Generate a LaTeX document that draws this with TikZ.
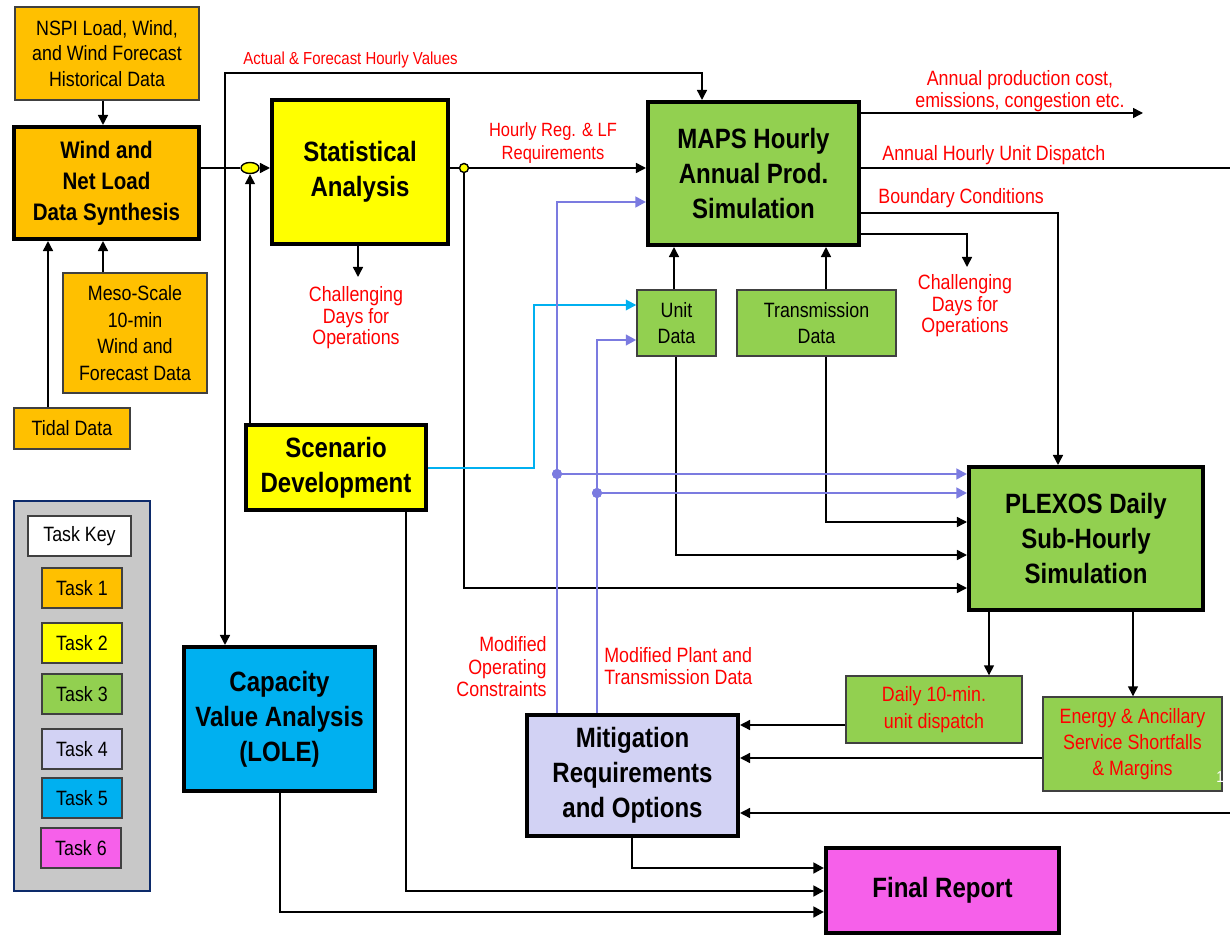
\documentclass[tikz,border=0pt]{standalone}
\usepackage{fontspec}
\setmainfont{Liberation Sans}
\newfontfamily\regf{Liberation Sans}[FakeStretch=0.86]
\newfontfamily\boldf{Liberation Sans}[FakeStretch=0.86]
\usetikzlibrary{arrows.meta,shapes.geometric,calc}
\definecolor{corange}{HTML}{FFC000}
\definecolor{cyellow}{HTML}{FFFF00}
\definecolor{cgreen}{HTML}{92D050}
\definecolor{clav}{HTML}{D2D2F4}
\definecolor{cblue}{HTML}{00B0F0}
\definecolor{cmag}{HTML}{F660EA}
\definecolor{cline}{HTML}{7B7BE0}
\definecolor{ccyan}{HTML}{00B0F0}
\definecolor{cred}{HTML}{FF0000}
\definecolor{cpanel}{HTML}{C8C8C8}
\definecolor{cnavy}{HTML}{0C2A6A}
\newcommand\mkbox[7]{\node[#6, minimum width={(#4-#2)*0.02cm}, minimum height={(#5-#3)*0.02cm}] (#1) at ({(#2+#4)/2},{(#3+#5)/2}) {#7};}
\tikzset{
 thinbox/.style={draw=black!75, line width=0.8pt, inner sep=0pt, align=center, font=\fontsize{11.8}{14.7}\selectfont\regf},
 thickbox/.style={draw=black, line width=2.3pt, inner sep=0pt, align=center, font=\fontsize{15.9}{19.8}\selectfont\boldf\bfseries},
 lbl/.style={text=cred, align=center, inner sep=0pt, font=\fontsize{11.8}{12.5}\selectfont\regf},
 conn/.style={draw=black, line width=0.85pt},
 arr/.style={conn, -{Triangle[length=5.7pt,width=5.7pt]}},
 barr/.style={draw=cline, line width=1.6pt, -{Triangle[length=6pt,width=6pt]}},
 carr/.style={draw=ccyan, line width=1.1pt, -{Triangle[length=6pt,width=6pt]}},
 farr/.style={draw=black, line width=1.6pt, -{Triangle[length=6pt,width=6pt]}},
}
\begin{document}
\begin{tikzpicture}[x=0.02cm,y=-0.02cm]
\useasboundingbox (0,0) rectangle (1230,935);
% legend
\mkbox{panel}{14}{501}{150}{891}{draw=cnavy,line width=1.7pt,fill=cpanel}{}
\mkbox{key}{28}{516}{131}{556}{thinbox,fill=white}{Task Key}
\mkbox{k1}{42}{568}{122}{608}{thinbox,fill=corange}{Task 1}
\mkbox{k2}{42}{623}{122}{663}{thinbox,fill=cyellow}{Task 2}
\mkbox{k3}{42}{674}{122}{714}{thinbox,fill=cgreen}{Task 3}
\mkbox{k4}{42}{729}{122}{769}{thinbox,fill=clav}{Task 4}
\mkbox{k5}{42}{778}{122}{818}{thinbox,fill=cblue}{Task 5}
\mkbox{k6}{41}{828}{121}{868}{thinbox,fill=cmag}{Task 6}
% boxes
\mkbox{nspi}{15}{7}{199}{100}{thinbox,fill=corange}{NSPI Load, Wind,\\and Wind Forecast\\Historical Data}
\mkbox{wind}{14}{127}{199}{239}{thickbox,fill=corange,font=\fontsize{13.6}{17.6}\selectfont\boldf\bfseries}{Wind and\\Net Load\\Data Synthesis}
\mkbox{meso}{63}{273}{207}{393}{thinbox,fill=corange,font=\fontsize{11.8}{15.1}\selectfont\regf}{Meso-Scale\\10-min\\Wind and\\Forecast Data}
\mkbox{tidal}{14}{408}{130}{449}{thinbox,fill=corange}{Tidal Data}
\mkbox{stat}{272}{100}{448}{244}{thickbox,fill=cyellow}{Statistical\\Analysis}
\mkbox{maps}{648}{102}{859}{245}{thickbox,fill=cgreen}{MAPS Hourly\\Annual Prod.\\Simulation}
\mkbox{unit}{637}{290}{716}{356}{thinbox,fill=cgreen}{Unit\\Data}
\mkbox{trans}{737}{290}{896}{356}{thinbox,fill=cgreen}{Transmission\\Data}
\mkbox{scen}{246}{425}{426}{510}{thickbox,fill=cyellow}{Scenario\\Development}
\mkbox{plex}{969}{467}{1203}{610}{thickbox,fill=cgreen}{PLEXOS Daily\\Sub-Hourly\\Simulation}
\mkbox{cap}{184}{647}{375}{791}{thickbox,fill=cblue}{Capacity\\Value Analysis\\(LOLE)}
\mkbox{mit}{527}{715}{738}{836}{thickbox,fill=clav}{Mitigation\\Requirements\\and Options}
\mkbox{fin}{826}{848}{1059}{933}{thickbox,fill=cmag}{Final Report}
\mkbox{daily}{846}{676}{1022}{743}{thinbox,fill=cgreen,text=cred,font=\fontsize{11.8}{15}\selectfont\regf}{Daily 10-min.\\unit dispatch}
\mkbox{energy}{1043}{697}{1222}{791}{thinbox,fill=cgreen,text=cred,font=\fontsize{11.8}{15}\selectfont\regf}{Energy \& Ancillary\\Service Shortfalls\\\& Margins}
\node[text=white, font=\fontsize{9}{9}\selectfont\regf, anchor=west, inner sep=0pt] (pg) at (1216,777) {1};
% labels
\node[lbl, anchor=west, font=\fontsize{9.9}{11}\selectfont\regf] (lact) at (243,60) {Actual \& Forecast Hourly Values};
\node[lbl, font=\fontsize{10.9}{13}\selectfont\regf] (lhr) at (553,143) {Hourly Reg. \& LF\\Requirements};
\node[lbl] (lapc) at (1020,91) {Annual production cost,\\emissions, congestion etc.};
\node[lbl, anchor=west] (lauc) at (882,155) {Annual Hourly Unit Dispatch};
\node[lbl, anchor=west] (lbc) at (878,198) {Boundary Conditions};
\node[lbl, font=\fontsize{11.8}{12.2}\selectfont\regf] (lch2) at (965,306) {Challenging\\Days for\\Operations};
\node[lbl, font=\fontsize{11.8}{12.2}\selectfont\regf] (lch1) at (356,318) {Challenging\\Days for\\Operations};
\node[lbl, align=right, anchor=east, font=\fontsize{11.8}{12.8}\selectfont\regf] (lmoc) at (547,667) {Modified\\Operating\\Constraints};
\node[lbl, align=left, anchor=west] (lmpt) at (604,666) {Modified Plant and\\Transmission Data};
% junctions
\node[ellipse, draw=black, line width=0.8pt, fill=cyellow, minimum width={18*0.02cm}, minimum height={11*0.02cm}, inner sep=0pt] (junc) at (250,168) {};
\node[circle, draw=black, line width=0.8pt, fill=cyellow, minimum size={9*0.02cm}, inner sep=0pt] (circ) at (464,168) {};
\coordinate (j1) at (225,168);
\coordinate (t1) at (225,73);
\coordinate (sdown) at (358,277);
\coordinate (o1) at (1143,113);
\coordinate (o2) at (1230,168);
\coordinate (o4) at (967,267);
\coordinate (o5) at (1230,813);
% connectors
\draw[arr] (nspi.south -| 103,0) -- (wind.north -| 103,0);
\draw[arr] (meso.north -| 103,0) -- (wind.south -| 103,0);
\draw[arr] (tidal.north -| 48,0) -- (wind.south -| 48,0);
\draw[conn] (wind.east |- junc) -- (junc.west);
\draw[arr] (junc.east) -- (stat.west |- junc);
\draw[arr] (j1) -- (t1) -| (maps.north -| 702,0);
\draw[arr] (j1) -- (cap.north -| j1);
\draw[arr] (scen.north -| junc) -- (junc.south);
\draw[arr] (stat.south -| sdown) -- (sdown);
\draw[conn] (stat.east |- circ) -- (circ.west);
\draw[arr] (circ.east) -- (maps.west |- circ);
\draw[arr] (circ.south) |- (plex.west |- 0,588);
\draw[arr] (maps.east |- o1) -- (o1);
\draw[conn] (maps.east |- o2) -- (o2);
\draw[arr] (maps.east |- 0,213) -| (plex.north -| 1058,0);
\draw[arr] (maps.east |- 0,234) -| (o4);
\draw[arr] (unit.north -| 674,0) -- (maps.south -| 674,0);
\draw[arr] (trans.north -| 826,0) -- (maps.south -| 826,0);
\draw[arr] (unit.south -| 676,0) |- (plex.west |- 0,555);
\draw[arr] (trans.south -| 826,0) |- (plex.west |- 0,522);
\draw[carr] (scen.east |- 0,468) -| (534,305) -- (unit.west |- 0,305);
\node[circle, fill=cline, minimum size={10*0.02cm}, inner sep=0pt] (d1) at (557,474) {};
\node[circle, fill=cline, minimum size={10*0.02cm}, inner sep=0pt] (d2) at (597,493) {};
\draw[barr] (mit.north -| d1) -- (d1 |- 0,202) -- (maps.west |- 0,202);
\draw[barr] (d1) -- (plex.west |- d1);
\draw[barr] (mit.north -| d2) -- (d2 |- 0,340) -- (unit.west |- 0,340);
\draw[barr] (d2) -- (plex.west |- d2);
\node[circle, fill=cline, minimum size={10*0.02cm}, inner sep=0pt] at (d1) {};
\node[circle, fill=cline, minimum size={10*0.02cm}, inner sep=0pt] at (d2) {};
\draw[arr] (plex.south -| 989,0) -- (daily.north -| 989,0);
\draw[arr] (plex.south -| 1133,0) -- (energy.north -| 1133,0);
\draw[arr] (daily.west |- 0,725) -- (mit.east |- 0,725);
\draw[arr] (energy.west |- 0,758) -- (mit.east |- 0,758);
\draw[arr] (o5) -- (mit.east |- o5);
\draw[farr] (mit.south -| 632,0) |- (fin.west |- 0,868);
\draw[farr] (scen.south -| 406,0) |- (fin.west |- 0,891);
\draw[farr] (cap.south -| 280,0) |- (fin.west |- 0,912);
\end{tikzpicture}
\end{document}
